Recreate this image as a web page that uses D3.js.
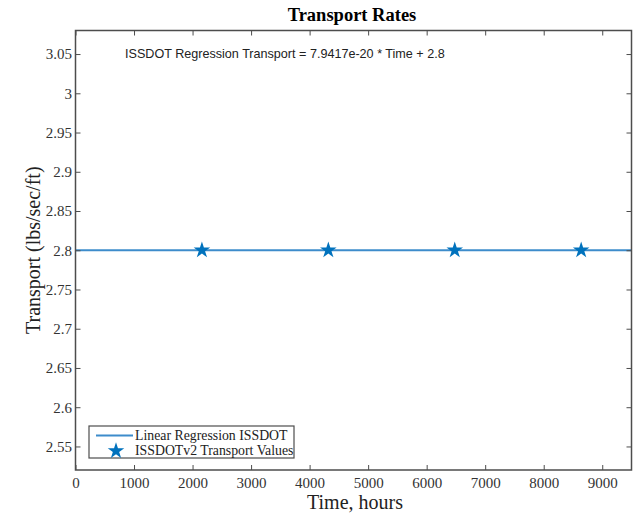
<!DOCTYPE html>
<html><head><meta charset="utf-8">
<script src="https://cdn.jsdelivr.net/npm/d3@7"></script>
<style>body{margin:0;background:#fff} .tk text{font-family:'Liberation Serif','Times New Roman',serif !important;}</style>
</head><body>
<svg id="c" width="633" height="514"></svg>
<script>
const pointTimes = [2160, 4320, 6480, 8640];
const pointValues = [2.8, 2.8, 2.8, 2.8];
const slope = 7.9417e-20;
const intercept = 2.8;
const xTicks = [0,1000,2000,3000,4000,5000,6000,7000,8000,9000];
const yTicks = [2.55,2.6,2.65,2.7,2.75,2.8,2.85,2.9,2.95,3,3.05];
const xDomain = [0, 9500];
const yDomain = [2.52, 3.08];
const titleText = "Transport Rates";
const xLabel = "Time, hours";
const yLabel = "Transport (lbs/sec/ft)";
const annot = "ISSDOT Regression Transport = 7.9417e-20 * Time + 2.8";
const legendLabels = ["Linear Regression ISSDOT", "ISSDOTv2 Transport Values"];

const L=75.5, T=30.5, R=631.5, B=470;
const svg=d3.select("#c");
const x=d3.scaleLinear().domain(xDomain).range([L,R]);
const y=d3.scaleLinear().domain(yDomain).range([B,T]);
const blue="#0072BD", axc="#4d4d4d", serif="'Liberation Serif','Times New Roman',serif";

svg.append("line").attr("x1",x(xDomain[0])).attr("x2",x(xDomain[1]))
  .attr("y1",y(slope*xDomain[0]+intercept)).attr("y2",y(slope*xDomain[1]+intercept))
  .attr("stroke","#3d8ccb").attr("stroke-width",2);

const star=d3.symbol().type(d3.symbolStar).size(85);
svg.selectAll(".pt").data(pointTimes).join("path")
  .attr("transform",(d,i)=>`translate(${x(d)},${y(pointValues[i])})`)
  .attr("d",star).attr("fill",blue);

function ax(g,axis){g.attr("class","tk").call(axis);g.select(".domain").remove();
  g.attr("font-family",serif).attr("font-size",15);
  g.selectAll("line").attr("stroke",axc);
  g.selectAll("text").style("font-family",serif).attr("font-size",15).attr("fill","#333");}
svg.append("g").attr("transform",`translate(0,${B})`).call(g=>ax(g,d3.axisBottom(x).tickValues(xTicks).tickSizeInner(-5).tickSizeOuter(0).tickPadding(7.5).tickFormat(d3.format("d"))));
svg.append("g").attr("transform",`translate(${L},0)`).call(g=>ax(g,d3.axisLeft(y).tickValues(yTicks).tickSizeInner(-5).tickSizeOuter(0).tickPadding(3.5).tickFormat(d=>String(+d.toFixed(2)))));
svg.append("g").attr("transform",`translate(0,${T})`).call(g=>{ax(g,d3.axisTop(x).tickValues(xTicks).tickSizeInner(-5).tickSizeOuter(0));g.selectAll("text").remove();});
svg.append("g").attr("transform",`translate(${R},0)`).call(g=>{ax(g,d3.axisRight(y).tickValues(yTicks).tickSizeInner(-5).tickSizeOuter(0));g.selectAll("text").remove();});
svg.append("rect").attr("x",L).attr("y",T).attr("width",R-L).attr("height",B-T)
  .attr("fill","none").attr("stroke",axc).attr("stroke-width",1.5);

svg.append("text").attr("x",352).attr("y",21).attr("text-anchor","middle")
  .attr("font-family",serif).attr("font-weight","bold").attr("font-size",18.5).text(titleText);
svg.append("text").attr("x",355).attr("y",509).attr("text-anchor","middle")
  .attr("font-family",serif).attr("font-size",20).attr("fill","#222").text(xLabel);
svg.append("text").attr("transform",`translate(40,${(T+B)/2}) rotate(-90)`).attr("text-anchor","middle")
  .attr("font-family",serif).attr("font-size",20).attr("fill","#222").text(yLabel);
svg.append("text").attr("x",125).attr("y",58).attr("font-family","'Liberation Sans',Arial,sans-serif")
  .attr("font-size",12.6).attr("fill","#222").text(annot);

const lg=svg.append("g");
lg.append("rect").attr("x",89).attr("y",426).attr("width",205).attr("height",32)
  .attr("fill","#fff").attr("stroke",axc).attr("stroke-width",1.2);
lg.append("line").attr("x1",96).attr("x2",133).attr("y1",435.5).attr("y2",435.5).attr("stroke","#3d8ccb").attr("stroke-width",2);
lg.append("path").attr("transform","translate(116,451)").attr("d",star).attr("fill",blue);
legendLabels.forEach((t,i)=>lg.append("text").attr("x",135).attr("y",440+i*15)
  .attr("font-family",serif).attr("font-size",13.8).attr("fill","#222").text(t));
</script>
</body></html>
